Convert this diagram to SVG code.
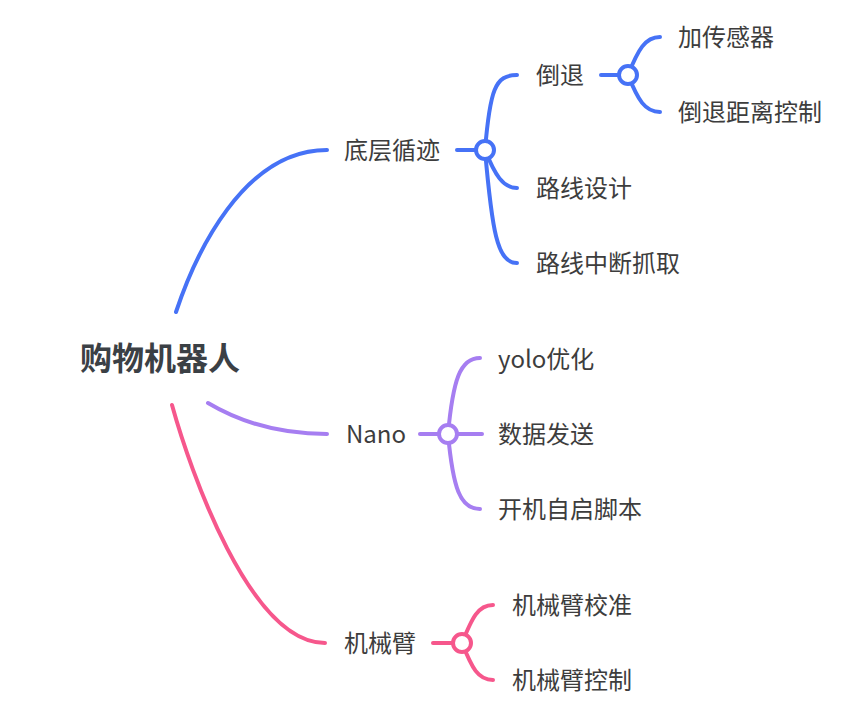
<svg xmlns="http://www.w3.org/2000/svg" width="868" height="726" viewBox="0 0 868 726">
  <style>
    text { font-family: "Noto Sans CJK SC", "Noto Sans", sans-serif; font-size: 24px; fill: #3d3d3d; }
    .root { font-size: 32px; font-weight: bold; fill: #3b4045; }
    .edge { fill: none; stroke-width: 4; stroke-linecap: round; }
    .dot { fill: #ffffff; stroke-width: 4; }
    .blue { stroke: #4672f6; }
    .purple { stroke: #a67ef1; }
    .pink { stroke: #f6578c; }
  </style>
  <rect width="868" height="726" fill="#ffffff"/>

  <g id="connectors">
    <!-- root to main branches -->
    <path class="edge blue" d="M176,312 C195,255 243,150 327,150"/>
    <path class="edge purple" d="M208,403 C240,422 280,434 327,434"/>
    <path class="edge pink" d="M172,405 C190,470 250,643 325,643"/>

    <!-- 底层循迹 subtree -->
    <path class="edge blue" d="M457,150 L485,150"/>
    <path class="edge blue" d="M485,150 C490,90 495,75 517,75"/>
    <path class="edge blue" d="M485,150 C495,175 503,188 517,188"/>
    <path class="edge blue" d="M485,150 C492,230 497,263 517,263"/>
    <path class="edge blue" d="M601,75 L628,75"/>
    <path class="edge blue" d="M628,75 C638,50 645,37 660,37"/>
    <path class="edge blue" d="M628,75 C638,100 645,112 660,112"/>

    <!-- Nano subtree -->
    <path class="edge purple" d="M420,434 L448,434"/>
    <path class="edge purple" d="M448,434 C453,380 460,358 480,358"/>
    <path class="edge purple" d="M448,434 L482,434"/>
    <path class="edge purple" d="M448,434 C453,488 460,509 480,509"/>

    <!-- 机械臂 subtree -->
    <path class="edge pink" d="M433,643 L462,643"/>
    <path class="edge pink" d="M462,643 C472,618 478,605 493,605"/>
    <path class="edge pink" d="M462,643 C472,668 478,680 493,680"/>

    <!-- collapse markers -->
    <circle class="dot blue" cx="485" cy="150" r="9"/>
    <circle class="dot blue" cx="628" cy="75" r="9"/>
    <circle class="dot purple" cx="448" cy="434" r="9"/>
    <circle class="dot pink" cx="462" cy="643" r="9"/>
  </g>

  <g id="root"><text class="root" x="80" y="370">购物机器人</text></g>

  <g id="n-dicengxunji"><text x="344" y="159">底层循迹</text></g>
  <g id="n-daotui"><text x="536" y="84">倒退</text></g>
  <g id="n-jiachuanganqi"><text x="678" y="46">加传感器</text></g>
  <g id="n-daotuijuli"><text x="678" y="121">倒退距离控制</text></g>
  <g id="n-luxiansheji"><text x="536" y="197">路线设计</text></g>
  <g id="n-luxianzhongduan"><text x="536" y="272">路线中断抓取</text></g>

  <g id="n-nano"><text x="346" y="443">Nano</text></g>
  <g id="n-yolo"><text x="498" y="368">yolo优化</text></g>
  <g id="n-shujufasong"><text x="498" y="443">数据发送</text></g>
  <g id="n-kaiji"><text x="498" y="518">开机自启脚本</text></g>

  <g id="n-jixiebi"><text x="344" y="652">机械臂</text></g>
  <g id="n-jiaozhun"><text x="512" y="614">机械臂校准</text></g>
  <g id="n-kongzhi"><text x="512" y="689">机械臂控制</text></g>
</svg>
